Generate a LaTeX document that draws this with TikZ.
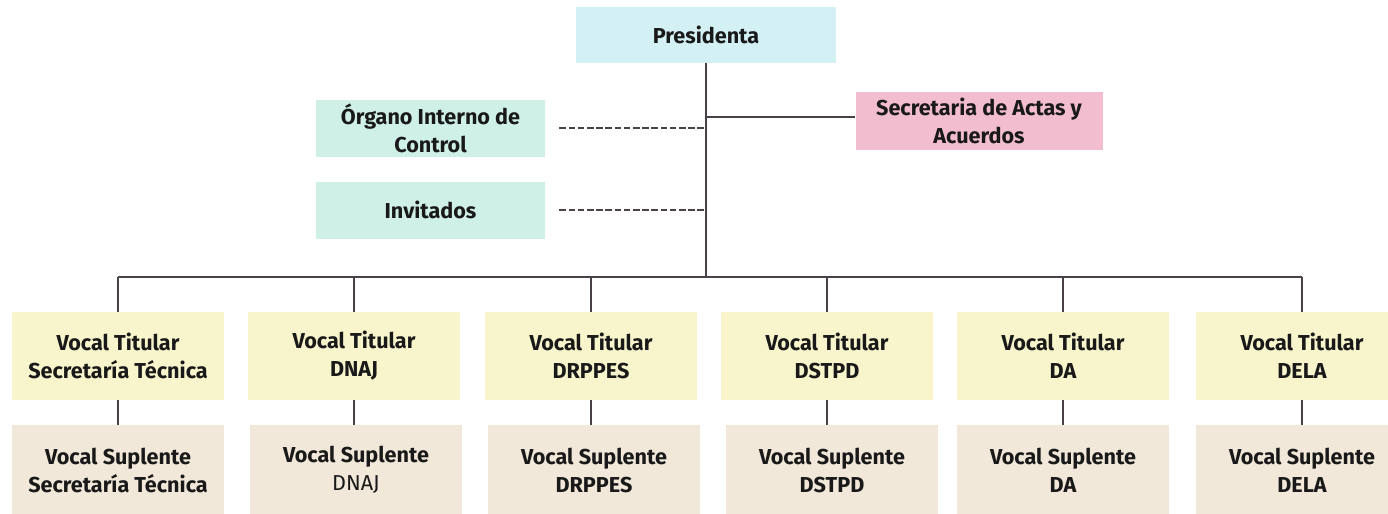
\documentclass[tikz,border=0pt]{standalone}
\usepackage{fontspec}
\setmainfont{Fira Sans}
\usetikzlibrary{positioning,calc}
\definecolor{prescyan}{HTML}{D3F1F5}
\definecolor{oicmint}{HTML}{CFF0E7}
\definecolor{actpink}{HTML}{F3BDD0}
\definecolor{tityellow}{HTML}{F8F4CC}
\definecolor{supbeige}{HTML}{F1E8DA}
\definecolor{linegray}{HTML}{4A4048}

\begin{document}
\begin{tikzpicture}[x=0.5pt, y=-0.5pt,
  every node/.append style={font=\fontsize{10.8}{14}\selectfont\bfseries,
             align=center, inner sep=0pt, text=black!90},
  pres/.style={fill=prescyan, minimum width=130pt, minimum height=28pt},
  oic/.style={fill=oicmint, minimum width=114.5pt, minimum height=28.5pt},
  acta/.style={fill=actpink, minimum width=123.5pt, minimum height=29pt},
  tit/.style={fill=tityellow, minimum width=106pt, minimum height=44pt},
  sup/.style={fill=supbeige, minimum width=106pt, minimum height=45pt},
  edge/.style={linegray, line width=0.6pt},
  dashedge/.style={edge, dash pattern=on 3.3pt off 1.3pt},
]
\useasboundingbox (0,0) rectangle (1388,514);
\clip (0,0) rectangle (1388,514);

\node[pres] (pres) at (706, 35)    {Presidenta};
\node[oic]  (oic)  at (430.5, 128) {Órgano Interno de\\Control};
\node[oic]  (inv)  at (430.5, 210) {Invitados};
\node[acta] (acta) at (979, 121)   {Secretaria de Actas y\\Acuerdos};
\coordinate (bus) at (707, 277);

% titulares y suplentes
\node[tit] (t1) at (118, 356)  {Vocal Titular\\Secretaría Técnica};
\node[tit] (t2) at (354, 356)  {Vocal Titular\\DNAJ};
\node[tit] (t3) at (591, 356)  {Vocal Titular\\DRPPES};
\node[tit] (t4) at (827, 356)  {Vocal Titular\\DSTPD};
\node[tit] (t5) at (1063, 356) {Vocal Titular\\DA};
\node[tit] (t6) at (1302, 356) {Vocal Titular\\DELA};

\node[sup] (s1) at (118, 470)  {Vocal Suplente\\Secretaría Técnica};
\node[sup] (s2) at (356, 470)  {Vocal Suplente\\\mdseries DNAJ};
\node[sup] (s3) at (594, 470)  {Vocal Suplente\\DRPPES};
\node[sup] (s4) at (832, 470)  {Vocal Suplente\\DSTPD};
\node[sup] (s5) at (1063, 470) {Vocal Suplente\\DA};
\node[sup] (s6) at (1302, 470) {Vocal Suplente\\DELA};

\draw[edge] (pres.south) -- (pres.south |- bus);
\draw[edge] (acta.west |- 0,117) -- (pres.south |- 0,117);
\draw[dashedge] ([xshift=7pt]oic.east) -- (oic.east -| pres.south);
\draw[dashedge] ([xshift=7pt]inv.east) -- (inv.east -| pres.south);
\draw[edge] (t1.north |- bus) -- (t6.north |- bus);

\foreach \i in {1,...,6} {
  \draw[edge] (t\i.north |- bus) -- (t\i.north);
  \draw[edge] (t\i.south) -- (s\i.north -| t\i.south);
}
\end{tikzpicture}
\end{document}
